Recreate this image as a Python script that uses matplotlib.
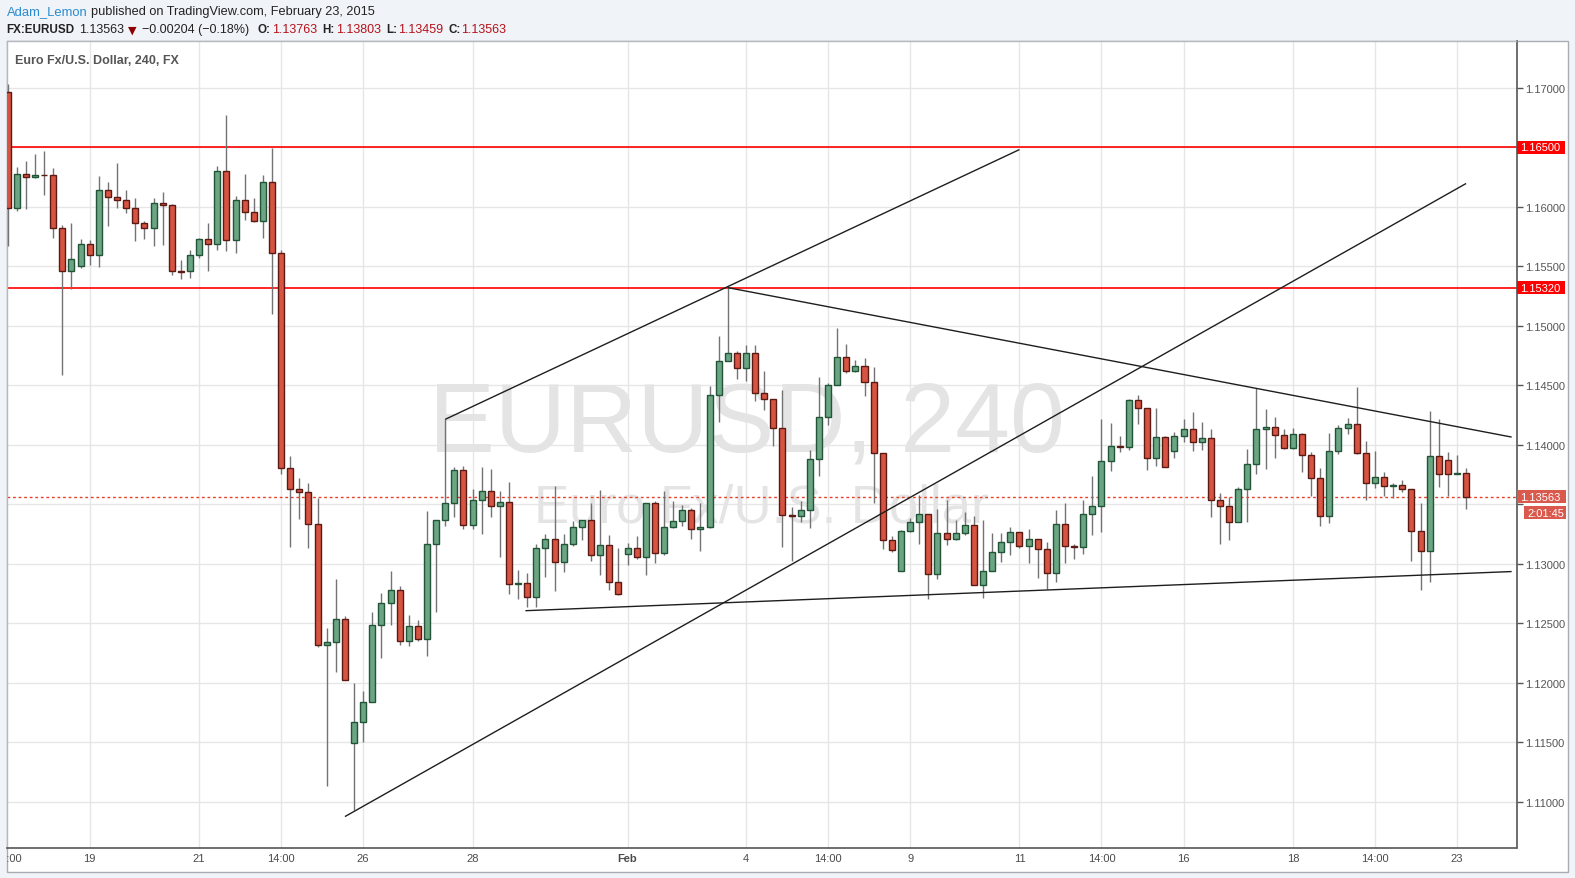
import matplotlib
matplotlib.use("Agg")
import matplotlib.pyplot as plt
from matplotlib.patches import Rectangle
from matplotlib.transforms import Bbox, TransformedBbox, blended_transform_factory

# ---------------- data (4H candles, EURUSD) ----------------
opens = [1.16964, 1.15992, 1.16275, 1.16250, 1.16267, 1.16267, 1.15825, 1.15458, 1.15500, 1.15683,
         1.15592, 1.16142, 1.16083, 1.16058, 1.15992, 1.15867, 1.15817, 1.16033, 1.16017, 1.15458,
         1.15458, 1.15592, 1.15725, 1.15683, 1.16300, 1.15717, 1.16058, 1.15958, 1.15883, 1.16208,
         1.15611, 1.13808, 1.13629, 1.13599, 1.13335, 1.12317, 1.12341, 1.12533, 1.11494, 1.11671,
         1.11838, 1.12482, 1.12668, 1.12775, 1.12353, 1.12476, 1.12368, 1.13162, 1.13365, 1.13506,
         1.13784, 1.13329, 1.13539, 1.13607, 1.13489, 1.13522, 1.12831, 1.12840, 1.12722, 1.13135,
         1.13211, 1.13017, 1.13169, 1.13312, 1.13371, 1.13076, 1.13160, 1.12848, 1.13084, 1.13135,
         1.13056, 1.13506, 1.13090, 1.13312, 1.13362, 1.13455, 1.13295, 1.13312, 1.14416, 1.14702,
         1.14767, 1.14643, 1.14767, 1.14433, 1.14382, 1.14138, 1.13413, 1.13404, 1.13455, 1.13876,
         1.14230, 1.14500, 1.14736, 1.14618, 1.14660, 1.14525, 1.13927, 1.13202, 1.12941, 1.13278,
         1.13354, 1.13421, 1.12916, 1.13261, 1.13211, 1.13261, 1.13323, 1.12820, 1.12941, 1.13101,
         1.13185, 1.13270, 1.13152, 1.13211, 1.13126, 1.12924, 1.13337, 1.13152, 1.13143, 1.13421,
         1.13489, 1.13860, 1.13986, 1.13978, 1.14374, 1.14306, 1.13885, 1.14062, 1.13944, 1.14070,
         1.14129, 1.14020, 1.14053, 1.13539, 1.13483, 1.13348, 1.13626, 1.13837, 1.14132, 1.14149,
         1.14081, 1.13972, 1.14090, 1.13913, 1.13719, 1.13399, 1.13947, 1.14140, 1.14174, 1.13930,
         1.13677, 1.13728, 1.13652, 1.13660, 1.13626, 1.13272, 1.13104, 1.13904, 1.13871, 1.13753,
         1.13763]
highs = [1.17030, 1.16333, 1.16381, 1.16444, 1.16469, 1.16325, 1.15844, 1.15867, 1.15728, 1.15719,
         1.16261, 1.16208, 1.16369, 1.16144, 1.16069, 1.15881, 1.16069, 1.16125, 1.16020, 1.15553,
         1.15633, 1.15736, 1.15867, 1.16344, 1.16769, 1.16092, 1.16278, 1.16069, 1.16269, 1.16492,
         1.15635, 1.13904, 1.13719, 1.13677, 1.13551, 1.12461, 1.12871, 1.12563, 1.11997, 1.11934,
         1.12596, 1.12751, 1.12940, 1.12811, 1.12569, 1.12527, 1.13440, 1.13370, 1.14213, 1.13814,
         1.13820, 1.13626, 1.13812, 1.13795, 1.13607, 1.13685, 1.12944, 1.12919, 1.13169, 1.13253,
         1.13657, 1.13253, 1.13362, 1.13371, 1.13506, 1.13618, 1.13244, 1.13135, 1.13177, 1.13236,
         1.13514, 1.13531, 1.13615, 1.13531, 1.13497, 1.13472, 1.13506, 1.14492, 1.14913, 1.15326,
         1.14787, 1.14837, 1.14837, 1.14618, 1.14382, 1.14458, 1.13475, 1.13531, 1.13952, 1.14567,
         1.14517, 1.14980, 1.14848, 1.14711, 1.14728, 1.14652, 1.13927, 1.13236, 1.13287, 1.13388,
         1.13576, 1.13421, 1.13463, 1.13534, 1.13365, 1.13438, 1.13399, 1.13365, 1.13256, 1.13256,
         1.13306, 1.13270, 1.13289, 1.13211, 1.13185, 1.13449, 1.13508, 1.13169, 1.13534, 1.13733,
         1.14216, 1.14183, 1.14070, 1.14382, 1.14416, 1.14306, 1.14306, 1.14070, 1.14107, 1.14216,
         1.14275, 1.14191, 1.14132, 1.13590, 1.13560, 1.13643, 1.13963, 1.14478, 1.14300, 1.14233,
         1.14132, 1.14140, 1.14098, 1.13938, 1.13803, 1.14098, 1.14166, 1.14225, 1.14486, 1.14034,
         1.13947, 1.13770, 1.13677, 1.13702, 1.13626, 1.13508, 1.14281, 1.14216, 1.13938, 1.13913,
         1.13803]
lows = [1.15672, 1.15964, 1.15983, 1.16239, 1.16097, 1.15733, 1.14589, 1.15306, 1.15486, 1.15514,
        1.15497, 1.15839, 1.15989, 1.15950, 1.15714, 1.15731, 1.15672, 1.15681, 1.15422, 1.15389,
        1.15397, 1.15572, 1.15456, 1.15639, 1.15631, 1.15608, 1.15886, 1.15872, 1.15739, 1.15097,
        1.13754, 1.13141, 1.13377, 1.13132, 1.12296, 1.11135, 1.12087, 1.12020, 1.10930, 1.11503,
        1.11838, 1.12204, 1.12488, 1.12317, 1.12308, 1.12347, 1.12228, 1.12593, 1.13320, 1.13395,
        1.13292, 1.13292, 1.13250, 1.13393, 1.13056, 1.12747, 1.12702, 1.12638, 1.12638, 1.12890,
        1.12770, 1.12933, 1.13152, 1.13200, 1.13022, 1.12904, 1.12778, 1.12736, 1.12989, 1.13039,
        1.12904, 1.13006, 1.13073, 1.13303, 1.13320, 1.13211, 1.13107, 1.13303, 1.14188, 1.14700,
        1.14548, 1.14539, 1.14365, 1.14289, 1.13986, 1.13143, 1.13022, 1.13354, 1.13303, 1.13733,
        1.14169, 1.14500, 1.14604, 1.14610, 1.14407, 1.13514, 1.13124, 1.13101, 1.12941, 1.13270,
        1.13166, 1.12700, 1.12874, 1.13160, 1.13202, 1.13244, 1.12820, 1.12708, 1.12941, 1.13017,
        1.13073, 1.13135, 1.13008, 1.12882, 1.12787, 1.12848, 1.13008, 1.13042, 1.13084, 1.13244,
        1.13270, 1.13775, 1.13935, 1.13952, 1.14171, 1.13789, 1.13820, 1.13809, 1.13885, 1.14020,
        1.13944, 1.13952, 1.13396, 1.13169, 1.13202, 1.13348, 1.13354, 1.13750, 1.13792, 1.13888,
        1.13961, 1.13963, 1.13770, 1.13567, 1.13320, 1.13346, 1.13919, 1.14090, 1.13921, 1.13534,
        1.13635, 1.13567, 1.13551, 1.13601, 1.13020, 1.12775, 1.12843, 1.13643, 1.13567, 1.13750,
        1.13459]
closes = [1.15992, 1.16275, 1.16250, 1.16264, 1.16264, 1.15825, 1.15458, 1.15558, 1.15683, 1.15592,
          1.16142, 1.16083, 1.16058, 1.15992, 1.15867, 1.15817, 1.16033, 1.16017, 1.15458, 1.15452,
          1.15592, 1.15725, 1.15683, 1.16300, 1.15717, 1.16058, 1.15958, 1.15883, 1.16208, 1.15611,
          1.13808, 1.13629, 1.13599, 1.13335, 1.12317, 1.12341, 1.12533, 1.12024, 1.11671, 1.11838,
          1.12482, 1.12668, 1.12775, 1.12353, 1.12476, 1.12368, 1.13162, 1.13365, 1.13506, 1.13784,
          1.13329, 1.13539, 1.13607, 1.13489, 1.13522, 1.12831, 1.12840, 1.12722, 1.13135, 1.13211,
          1.13017, 1.13169, 1.13312, 1.13371, 1.13076, 1.13160, 1.12848, 1.12747, 1.13135, 1.13056,
          1.13506, 1.13090, 1.13312, 1.13362, 1.13455, 1.13295, 1.13312, 1.14416, 1.14702, 1.14767,
          1.14643, 1.14767, 1.14433, 1.14382, 1.14138, 1.13413, 1.13404, 1.13455, 1.13876, 1.14230,
          1.14500, 1.14736, 1.14618, 1.14660, 1.14525, 1.13927, 1.13202, 1.13118, 1.13278, 1.13354,
          1.13421, 1.12916, 1.13261, 1.13211, 1.13261, 1.13323, 1.12820, 1.12941, 1.13101, 1.13185,
          1.13270, 1.13152, 1.13211, 1.13126, 1.12924, 1.13337, 1.13152, 1.13143, 1.13421, 1.13489,
          1.13860, 1.13986, 1.13978, 1.14374, 1.14306, 1.13885, 1.14062, 1.13809, 1.14070, 1.14129,
          1.14020, 1.14053, 1.13539, 1.13489, 1.13348, 1.13626, 1.13837, 1.14132, 1.14149, 1.14081,
          1.13972, 1.14090, 1.13913, 1.13719, 1.13399, 1.13947, 1.14140, 1.14174, 1.13930, 1.13677,
          1.13728, 1.13652, 1.13660, 1.13626, 1.13272, 1.13104, 1.13904, 1.13753, 1.13753, 1.13763,
          1.13563]

# x-axis date labels (candle index, label)
date_ticks = [0, 9, 21, 30, 39, 51, 68, 81, 90, 99, 111, 120, 129, 141, 150, 159]
date_labels = ["14:00", "19", "21", "14:00", "26", "28", "Feb", "4", "14:00", "9",
               "11", "14:00", "16", "18", "14:00", "23"]

# price axis levels
price_levels = [1.110, 1.115, 1.120, 1.125, 1.130, 1.135, 1.140, 1.145, 1.150, 1.155,
                1.160, 1.165, 1.170]

# horizontal levels and current price
resistance_levels = [1.16500, 1.15320]
last_price = 1.13563
countdown = "2:01:45"

# drawn trend lines: (index0, price0, index1, price1)
trend_lines = [
    (48.0, 1.14213, 111.0, 1.16480),
    (37.0, 1.10875, 160.0, 1.16195),
    (79.0, 1.15320, 165.0, 1.14064),
    (56.8, 1.12605, 165.0, 1.12934),
]

# header strings
author = "Adam_Lemon"
publish_text = "published on TradingView.com, February 23, 2015"
symbol = "FX:EURUSD"
change_text = "\u22120.00204 (\u22120.18%)"
ohlc_last = ["1.13763", "1.13803", "1.13459", "1.13563"]

# ---------------- figure ----------------
W, H = 1575, 879
BG = "#f0f3f7"
fig = plt.figure(figsize=(W / 100, H / 100), dpi=100)
fig.patch.set_facecolor(BG)

# white panel (plot + axes strips)
panel = Rectangle((6.5 / W, 1 - 873 / H), (1568 - 6.5) / W, (873 - 42) / H,
                  transform=fig.transFigure, facecolor="white", edgecolor="#a9adb3",
                  linewidth=1.0, zorder=-5)
fig.patches.append(panel)

L, R, T, B = 6.5, 1516.5, 42.0, 849.0
ax = fig.add_axes([L / W, 1 - B / H, (R - L) / W, (B - T) / H])
ax.set_zorder(2)
ax.set_facecolor("white")

n = len(closes)
xs = list(range(n))
ax.set_xlim(-0.13, 165.53)
ax.set_ylim(1.106109, 1.173924)
px_per_price = (B - T) / (1.173924 - 1.106109)
ax_w = R - L

# grid
for p in price_levels:
    ax.axhline(p, color="#e6e6e6", lw=1.0, zorder=1)
for t in date_ticks[1:]:
    ax.axvline(t, color="#e6e6e6", lw=1.0, zorder=1)

# watermark
ax.text(0.4904, 0.492, "EURUSD, 240", transform=ax.transAxes, ha="center", va="baseline",
        fontsize=71, family="Liberation Sans", color="#e4e4e4", zorder=1.5)
ax.text(0.5, 0.405, "Euro Fx/U.S. Dollar", transform=ax.transAxes, ha="center", va="baseline",
        fontsize=38, family="Liberation Sans", color="#e4e4e4", zorder=1.5)

# resistance lines and current price line
for lvl in resistance_levels:
    ax.axhline(lvl, color="#ff0000", lw=1.2, zorder=2)
ax.axhline(last_price, color="#e8402a", lw=1.0, ls=(0, (2, 2)), zorder=2.5)

# candles
up_fill, up_edge = "#6ba583", "#225437"
dn_fill, dn_edge = "#d75442", "#5b1a13"
for i in xs:
    o, h, l, c = opens[i], highs[i], lows[i], closes[i]
    up = c >= o
    ax.vlines(i, l, h, color="#737375", lw=1.0, zorder=3)
    bot = min(o, c)
    ht = max(abs(c - o), 0.00002)
    ax.bar(i, ht, bottom=bot, width=0.66,
           color=up_fill if up else dn_fill,
           edgecolor=up_edge if up else dn_edge, linewidth=1.0, zorder=4)

# trend lines
for (x0, y0, x1, y1) in trend_lines:
    ax.plot([x0, x1], [y0, y1], color="#1e1e1e", lw=1.0, zorder=5, solid_capstyle="butt")

# spines
for s in ["top", "left"]:
    ax.spines[s].set_color("#b5b9be")
    ax.spines[s].set_linewidth(1.0)
ax.spines["bottom"].set_color("#555555")
ax.spines["right"].set_color("#555555")
ax.spines["bottom"].set_linewidth(1.2)
ax.spines["right"].set_linewidth(1.2)

# price axis ticks
ax.yaxis.tick_right()
ax.set_yticks(price_levels)
ylabels = []
for p in price_levels:
    if abs(p - 1.165) < 1e-9 or abs(p - 1.135) < 1e-9:
        ylabels.append("")
    else:
        ylabels.append(f"{p:.5f}")
ax.set_yticklabels(ylabels)
ax.tick_params(axis="y", which="both", length=4, width=1, color="#555555",
               labelcolor="#555555", labelsize=8, pad=2.5)
for lab in ax.get_yticklabels():
    lab.set_family("Liberation Sans")

# x-axis labels (manual, no tick marks)
ax.set_xticks([])
clipbox = TransformedBbox(Bbox([[L / W, 0], [R / W, 1]]), fig.transFigure)
xtrans = blended_transform_factory(ax.transData, ax.transAxes)
for t, lab in zip(date_ticks, date_labels):
    txt = ax.text(t, -0.0124, lab, transform=xtrans, ha="center", va="center",
                  fontsize=8, family="Liberation Sans", color="#4a4a4a",
                  fontweight="bold" if lab == "Feb" else "normal", clip_on=False)
    if t == 0:
        txt.set_clip_box(clipbox)
        txt.set_clip_on(True)

# price label boxes (drawn as rectangles in px-based sizes)
ytrans = blended_transform_factory(ax.transAxes, ax.transData)
box_h = 13.0 / px_per_price


def price_box(x0px, x1px, yc, text, fc):
    r = Rectangle(((x0px - L) / ax_w, yc - box_h / 2), (x1px - x0px) / ax_w, box_h,
                  transform=ytrans, facecolor=fc, edgecolor="none", clip_on=False, zorder=9)
    ax.add_patch(r)
    ax.text((x0px + 3.0 - L) / ax_w, yc, text, transform=ytrans, ha="left", va="center",
            fontsize=8, family="Liberation Sans", color="white", clip_on=False, zorder=10)


for lvl in resistance_levels:
    price_box(1516.7, 1565.0, lvl, f"{lvl:.5f}", "#ff0000")
price_box(1516.7, 1565.5, last_price, f"{last_price:.5f}", "#d9594c")
price_box(1524.0, 1565.5, last_price - 16.0 / px_per_price, countdown, "#d9594c")

# inner title
ax.text(0.0056, 0.9768, "Euro Fx/U.S. Dollar, 240, FX", transform=ax.transAxes,
        ha="left", va="center", fontsize=9, family="Liberation Sans", color="#555555",
        fontweight="bold", zorder=10)

# header
def ftext(x, y, s, **kw):
    kw.setdefault("family", "Liberation Sans")
    kw.setdefault("fontsize", 9.2)
    fig.text(x / W, 1 - y / H, s, va="center", ha="left", **kw)

ftext(6.7, 12.3, author, color="#2a8ccf", fontsize=9.4)
ftext(91.0, 12.3, publish_text, color="#222222")
ftext(6.7, 30.0, symbol, color="#222222", fontweight="bold", fontsize=8.4)
ftext(79.0, 30.0, ohlc_last[3], color="#222222", fontsize=9.0)
ftext(128.0, 30.5, "\u25bc", color="#8b0000", family="DejaVu Sans", fontsize=8)
ftext(141.5, 30.0, change_text, color="#222222", fontsize=9.0)
keys = ["O:", "H:", "L:", "C:"]
key_x = [258.0, 322.7, 386.7, 448.3]
val_x = [271.7, 336.0, 398.3, 461.0]
for k, kx, v, vx in zip(keys, key_x, ohlc_last, val_x):
    ftext(kx, 30.0, k, color="#222222", fontweight="bold", fontsize=8.4)
    ftext(vx, 30.0, v, color="#b5121b", fontsize=9.0)

fig.savefig("out.png", dpi=100, facecolor=fig.get_facecolor())
